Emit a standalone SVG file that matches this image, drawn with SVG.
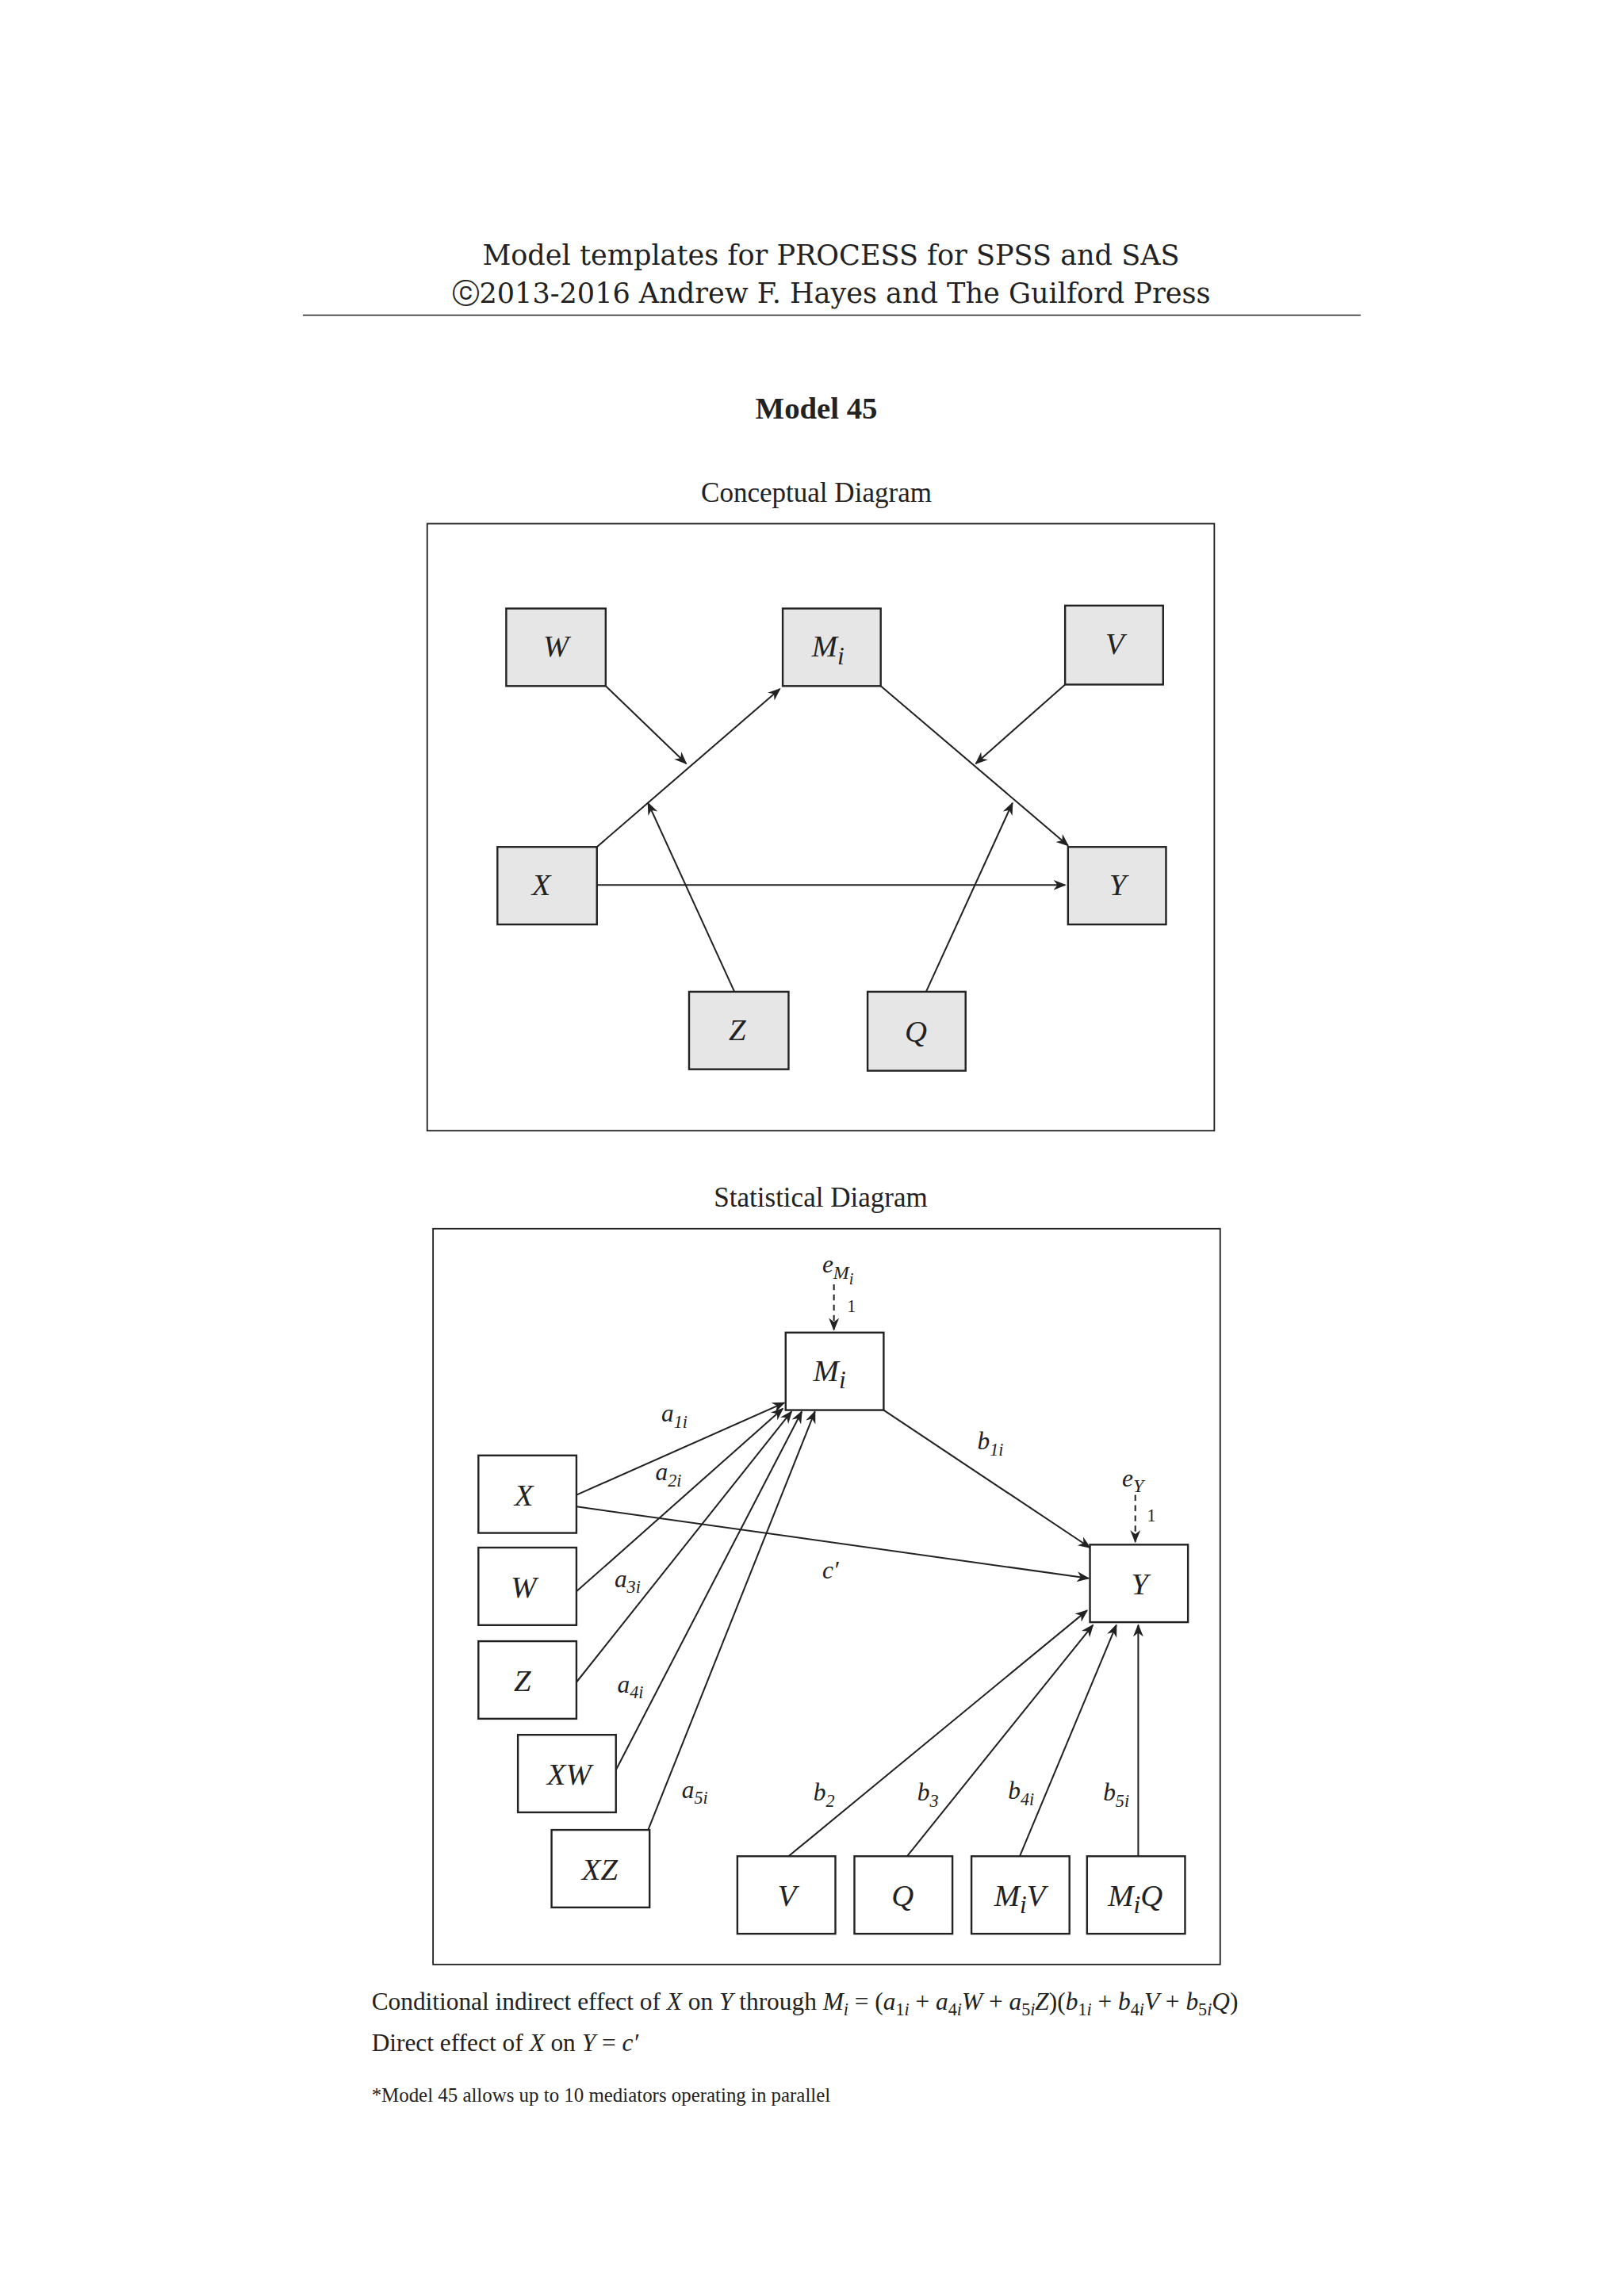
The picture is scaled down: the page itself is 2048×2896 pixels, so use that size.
<svg xmlns="http://www.w3.org/2000/svg" width="2048" height="2896" viewBox="0 0 2048 2896">
<style>
.t{font-family:"Liberation Serif","Times New Roman",serif;fill:#222}
.h{font-family:"DejaVu Serif","Liberation Serif",serif;font-size:19px;fill:#222}
.n{font-family:"Liberation Serif",serif;font-style:italic;font-size:21px;fill:#222;text-anchor:middle}
.l{font-family:"Liberation Serif",serif;font-style:italic;font-size:17px;fill:#222}
.g rect{fill:#e6e6e6;stroke:#222;stroke-width:1.3}
.s rect{fill:#fff;stroke:#222;stroke-width:1.3}
.c line{stroke:#222;stroke-width:1.1;marker-end:url(#a)}
.d line{stroke:#222;stroke-width:1.1;stroke-dasharray:4,3;marker-end:url(#a)}
</style>
<defs><marker id="a" viewBox="0 0 10 10" refX="9" refY="5" markerWidth="8" markerHeight="8" orient="auto"><path d="M0,1 L10,5 L0,9 L3,5 Z" fill="#222"/></marker></defs>
<rect width="2048" height="2896" fill="#fff"/>
<g transform="scale(1.845)">
<text class="h" x="568" y="181" text-anchor="middle">Model templates for PROCESS for SPSS and SAS</text>
<text class="h" x="568" y="207" text-anchor="middle">ⓒ2013-2016 Andrew F. Hayes and The Guilford Press</text>
<line x1="207" y1="215.5" x2="930" y2="215.5" stroke="#222" stroke-width="0.8"/>
<text class="t" x="558" y="286" text-anchor="middle" font-size="21" font-weight="bold">Model 45</text>
<text class="t" x="558" y="343" text-anchor="middle" font-size="19">Conceptual Diagram</text>
<rect x="292" y="358" width="538" height="415" fill="none" stroke="#222" stroke-width="1"/>
<g class="c">
<line x1="408" y1="579" x2="533" y2="471"/>
<line x1="414" y1="469" x2="469" y2="522"/>
<line x1="728" y1="468" x2="667" y2="522"/>
<line x1="602" y1="469" x2="730" y2="578"/>
<line x1="408" y1="605" x2="728" y2="605"/>
<line x1="502" y1="678" x2="443" y2="549"/>
<line x1="633" y1="678" x2="692" y2="549"/>
</g>
<g class="g">
<g id="cW"><rect x="346" y="416" width="68" height="53"/><text class="n" x="380" y="449">W</text></g>
<g id="cM"><rect x="535" y="416" width="67" height="53"/><text class="n" x="566" y="449">M<tspan font-size="17" dy="5">i</tspan></text></g>
<g id="cV"><rect x="728" y="414" width="67" height="54"/><text class="n" x="762" y="447">V</text></g>
<g id="cX"><rect x="340" y="579" width="68" height="53"/><text class="n" x="370" y="612">X</text></g>
<g id="cY"><rect x="730" y="579" width="67" height="53"/><text class="n" x="764" y="612">Y</text></g>
<g id="cZ"><rect x="471" y="678" width="68" height="53"/><text class="n" x="504" y="711">Z</text></g>
<g id="cQ"><rect x="593" y="678" width="67" height="54"/><text class="n" x="626" y="712">Q</text></g>
</g>
<text class="t" x="561" y="825" text-anchor="middle" font-size="19">Statistical Diagram</text>
<rect x="296" y="840" width="538" height="503" fill="none" stroke="#222" stroke-width="1"/>
<g class="d"><line x1="570" y1="878" x2="570" y2="909"/><line x1="776" y1="1022" x2="776" y2="1054"/></g>
<text class="l" x="562" y="870" font-size="21">e<tspan font-size="13" dy="4">M</tspan><tspan font-size="11" dy="4">i</tspan></text>
<text class="t" x="579" y="897" font-size="12">1</text>
<text class="l" x="767" y="1016" font-size="21">e<tspan font-size="13" dy="4">Y</tspan></text>
<text class="t" x="784" y="1040" font-size="12">1</text>
<g class="c">
<line x1="394" y1="1022" x2="536" y2="959"/>
<line x1="394" y1="1088" x2="535" y2="963"/>
<line x1="394" y1="1150" x2="541" y2="965"/>
<line x1="421" y1="1210" x2="548" y2="965"/>
<line x1="443" y1="1251" x2="557" y2="965"/>
<line x1="604" y1="964" x2="745" y2="1058"/>
<line x1="394" y1="1030" x2="744" y2="1079"/>
<line x1="539" y1="1269" x2="743" y2="1101"/>
<line x1="620" y1="1269" x2="747" y2="1111"/>
<line x1="697" y1="1269" x2="763" y2="1111"/>
<line x1="778" y1="1269" x2="778" y2="1111"/>
</g>
<g class="l">
<text x="452" y="972">a<tspan font-size="12" dy="4">1</tspan><tspan font-size="12">i</tspan></text>
<text x="448" y="1012">a<tspan font-size="12" dy="4">2</tspan><tspan font-size="12">i</tspan></text>
<text x="420" y="1085">a<tspan font-size="12" dy="4">3</tspan><tspan font-size="12">i</tspan></text>
<text x="422" y="1157">a<tspan font-size="12" dy="4">4</tspan><tspan font-size="12">i</tspan></text>
<text x="466" y="1229">a<tspan font-size="12" dy="4">5</tspan><tspan font-size="12">i</tspan></text>
<text x="668" y="991">b<tspan font-size="12" dy="4">1</tspan><tspan font-size="12">i</tspan></text>
<text x="562" y="1079">c′</text>
<text x="556" y="1231">b<tspan font-size="12" dy="4">2</tspan></text>
<text x="627" y="1231">b<tspan font-size="12" dy="4">3</tspan></text>
<text x="689" y="1230">b<tspan font-size="12" dy="4">4</tspan><tspan font-size="12">i</tspan></text>
<text x="754" y="1231">b<tspan font-size="12" dy="4">5</tspan><tspan font-size="12">i</tspan></text>
</g>
<g class="s">
<g id="sM"><rect x="537" y="911" width="67" height="53"/><text class="n" x="567" y="944">M<tspan font-size="17" dy="5">i</tspan></text></g>
<g id="sX"><rect x="327" y="995" width="67" height="53"/><text class="n" x="358" y="1029">X</text></g>
<g id="sW"><rect x="327" y="1058" width="67" height="53"/><text class="n" x="358" y="1092">W</text></g>
<g id="sZ"><rect x="327" y="1122" width="67" height="53"/><text class="n" x="357" y="1156">Z</text></g>
<g id="sXW"><rect x="354" y="1186" width="67" height="53"/><text class="n" x="389" y="1220">XW</text></g>
<g id="sXZ"><rect x="377" y="1251" width="67" height="53"/><text class="n" x="410" y="1285">XZ</text></g>
<g id="sY"><rect x="745" y="1056" width="67" height="53"/><text class="n" x="779" y="1090">Y</text></g>
<g id="sV"><rect x="504" y="1269" width="67" height="53"/><text class="n" x="538" y="1303">V</text></g>
<g id="sQ"><rect x="584" y="1269" width="67" height="53"/><text class="n" x="617" y="1303">Q</text></g>
<g id="sMV"><rect x="664" y="1269" width="67" height="53"/><text class="n" x="697" y="1303">M<tspan font-size="17" dy="5">i</tspan><tspan dy="-5">V</tspan></text></g>
<g id="sMQ"><rect x="743" y="1269" width="67" height="53"/><text class="n" x="776" y="1303">M<tspan font-size="17" dy="5">i</tspan><tspan dy="-5">Q</tspan></text></g>
</g>
<text class="t" x="254" y="1374" font-size="17">Conditional indirect effect of <tspan font-style="italic">X</tspan> on <tspan font-style="italic">Y</tspan> through <tspan font-style="italic">M<tspan font-size="12" dy="4">i</tspan></tspan><tspan dy="-4"> = (</tspan><tspan font-style="italic">a</tspan><tspan font-size="12" dy="4">1<tspan font-style="italic">i</tspan></tspan><tspan dy="-4"> + </tspan><tspan font-style="italic">a</tspan><tspan font-size="12" dy="4">4<tspan font-style="italic">i</tspan></tspan><tspan dy="-4" font-style="italic">W</tspan> + <tspan font-style="italic">a</tspan><tspan font-size="12" dy="4">5<tspan font-style="italic">i</tspan></tspan><tspan dy="-4" font-style="italic">Z</tspan>)(<tspan font-style="italic">b</tspan><tspan font-size="12" dy="4">1<tspan font-style="italic">i</tspan></tspan><tspan dy="-4"> + </tspan><tspan font-style="italic">b</tspan><tspan font-size="12" dy="4">4<tspan font-style="italic">i</tspan></tspan><tspan dy="-4" font-style="italic">V</tspan> + <tspan font-style="italic">b</tspan><tspan font-size="12" dy="4">5<tspan font-style="italic">i</tspan></tspan><tspan dy="-4" font-style="italic">Q</tspan>)</text>
<text class="t" x="254" y="1402" font-size="17">Direct effect of <tspan font-style="italic">X</tspan> on <tspan font-style="italic">Y</tspan> = <tspan font-style="italic">c′</tspan></text>
<text class="t" x="254" y="1437" font-size="13.5">*Model 45 allows up to 10 mediators operating in parallel</text>
</g>
</svg>
